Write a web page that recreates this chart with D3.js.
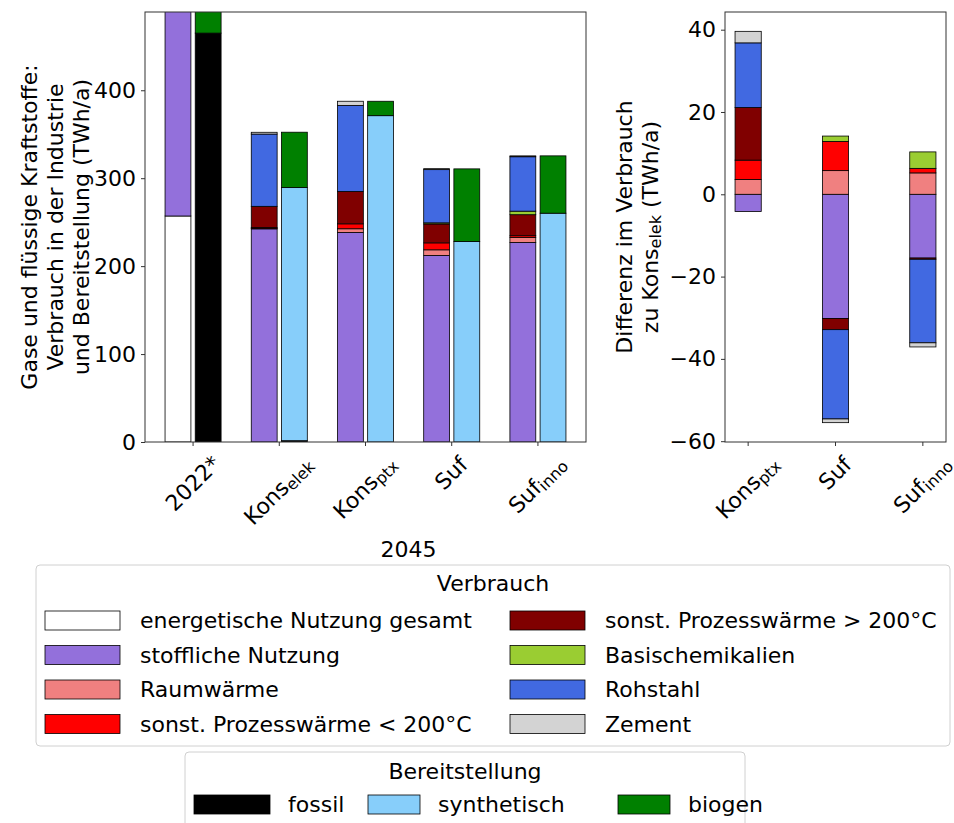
<!DOCTYPE html>
<html>
<head>
<meta charset="utf-8">
<script src="https://cdn.jsdelivr.net/npm/d3@7"></script>
<style>
  html, body { margin: 0; padding: 0; background: #fff; }
  svg { display: block; font-family: "DejaVu Sans", sans-serif; }
</style>
</head>
<body>
<svg id="chart" width="954" height="823"></svg>
<script>
// Scenario labels (base text + subscript)
const tickBase = ["2022*", "Kons", "Kons", "Suf", "Suf"];
const tickSub  = ["", "elek", "ptx", "", "inno"];

// Consumption by use (TWh/a), per scenario
const energetisch  = [257, 0, 0, 0, 0];
const stofflich    = [268, 242.4, 238.3, 212.2, 226.9];
const raumwaerme   = [0, 0.6, 4.2, 6.35, 5.8];
const pwUnter200   = [0, 0.8, 5.6, 7.9, 1.9];
const pwUeber200   = [0, 24.2, 36.9, 21.5, 23.9];
const basischemie  = [0, 0, 0, 1.3, 4.0];
const rohstahl     = [0, 82.2, 97.8, 60.5, 61.9];
const zement       = [0, 2.0, 4.7, 1.1, 1.0];

// Supply (TWh/a), per scenario
const fossil       = [465, 1.5, 0, 0, 0];
const synthetisch  = [0, 287.8, 371.1, 228.0, 260.2];
const biogen       = [60, 63.0, 16.4, 82.6, 65.2];

// Differences to Kons_elek (TWh/a)
const diffBase = ["Kons", "Suf", "Suf"];
const diffSub  = ["ptx", "", "inno"];
const dStofflich   = [-4.2, -30.2, -15.5];
const dRaumwaerme  = [3.6, 5.75, 5.2];
const dPwUnter200  = [4.7, 7.1, 1.1];
const dPwUeber200  = [12.8, -2.7, -0.3];
const dBasischemie = [0, 1.3, 4.0];
const dRohstahl    = [15.7, -21.7, -20.3];
const dZement      = [2.8, -0.9, -1.0];

const leftTicks  = [0, 100, 200, 300, 400];
const rightTicks = [-60, -40, -20, 0, 20, 40];

const useNames = ["energetische Nutzung gesamt", "stoffliche Nutzung", "Raumwärme",
  "sonst. Prozesswärme < 200°C", "sonst. Prozesswärme > 200°C", "Basischemikalien", "Rohstahl", "Zement"];
const useColors = ["#ffffff", "#9370db", "#f08080", "#ff0000", "#800000", "#9acd32", "#4169e1", "#d3d3d3"];
const supplyNames = ["fossil", "synthetisch", "biogen"];
const supplyColors = ["#000000", "#87cefa", "#008000"];

const useSeries = [energetisch, stofflich, raumwaerme, pwUnter200, pwUeber200, basischemie, rohstahl, zement];
const supplySeries = [fossil, synthetisch, biogen];
const diffSeries = [null, dStofflich, dRaumwaerme, dPwUnter200, dPwUeber200, dBasischemie, dRohstahl, dZement];

const svg = d3.select("#chart");
const FS = 22, SUB = 16;
const barW = 0.3, off = 0.175;

// ---------- left panel ----------
const xL = d3.scaleLinear().domain([-0.5575, 4.5575]).range([145, 586]);
const yL = d3.scaleLinear().domain([0, 489]).range([442, 12]);

svg.append("clipPath").attr("id", "clipL").append("rect")
  .attr("x", 145).attr("y", 12).attr("width", 441).attr("height", 430);

const gL = svg.append("g").attr("clip-path", "url(#clipL)");

function stackBars(g, x, y, series, colors, pos) {
  const n = series[0].length;
  for (let i = 0; i < n; i++) {
    let cum = 0;
    series.forEach((s, k) => {
      const v = s[i];
      if (!v) return;
      g.append("rect")
        .attr("x", x(i + pos - barW / 2))
        .attr("width", x(i + pos + barW / 2) - x(i + pos - barW / 2))
        .attr("y", y(cum + v))
        .attr("height", y(cum) - y(cum + v))
        .attr("fill", colors[k])
        .attr("stroke", "#000").attr("stroke-width", 0.8);
      cum += v;
    });
  }
}
stackBars(gL, xL, yL, useSeries, useColors, -off);
stackBars(gL, xL, yL, supplySeries, supplyColors, off);

// ---------- right panel ----------
const xR = d3.scaleLinear().domain([-0.265, 2.265]).range([725, 946]);
const yR = d3.scaleLinear().domain([-60.2, 44.3]).range([442, 12]);
const gR = svg.append("g");
for (let i = 0; i < diffBase.length; i++) {
  let pos = 0, neg = 0;
  diffSeries.forEach((s, k) => {
    if (!s) return;
    const v = s[i];
    if (!v) return;
    let y0, y1;
    if (v > 0) { y0 = pos; y1 = pos + v; pos = y1; }
    else { y0 = neg; y1 = neg + v; neg = y1; }
    gR.append("rect")
      .attr("x", xR(i - barW / 2))
      .attr("width", xR(i + barW / 2) - xR(i - barW / 2))
      .attr("y", yR(Math.max(y0, y1)))
      .attr("height", Math.abs(yR(y0) - yR(y1)))
      .attr("fill", useColors[k])
      .attr("stroke", "#000").attr("stroke-width", 0.8);
  });
}

// ---------- axes ----------
function frame(x0, x1, y0, y1) {
  svg.append("rect").attr("x", x0).attr("y", y0).attr("width", x1 - x0).attr("height", y1 - y0)
    .attr("fill", "none").attr("stroke", "#333").attr("stroke-width", 1);
}
frame(145, 586, 12, 442);
frame(725, 946, 12, 442);

const fmt = v => (v < 0 ? "\u2212" + Math.abs(v) : String(v));
const axL = svg.append("g").attr("transform", "translate(145,0)")
  .call(d3.axisLeft(yL).tickValues(leftTicks).tickSize(4).tickPadding(5).tickFormat(fmt));
const axR = svg.append("g").attr("transform", "translate(725,0)")
  .call(d3.axisLeft(yR).tickValues(rightTicks).tickSize(4).tickPadding(5).tickFormat(fmt));
[axL, axR].forEach(a => {
  a.select(".domain").remove();
  a.selectAll("line").attr("stroke", "#333");
  a.selectAll("text").attr("font-size", FS).attr("font-family", "DejaVu Sans").attr("fill", "#000");
});

// x ticks + rotated labels with subscripts
function xLabels(x, bases, subs, yTop) {
  bases.forEach((b, i) => {
    const X = x(i);
    svg.append("line").attr("x1", X).attr("x2", X).attr("y1", 442).attr("y2", 446)
      .attr("stroke", "#333");
    const g = svg.append("g");
    const t = g.append("text").attr("font-size", FS).attr("fill", "#000");
    t.append("tspan").text(b);
    if (subs[i]) t.append("tspan").attr("font-size", SUB).attr("dy", 3).text(subs[i]);
    const bb = t.node().getBBox();
    const cx = bb.x + bb.width / 2, cy = bb.y + bb.height / 2;
    const half = (bb.width + bb.height) / (2 * Math.SQRT2);
    g.attr("transform", `translate(${X},${yTop + half}) rotate(-45) translate(${-cx},${-cy})`);
  });
}
xLabels(xL, tickBase, tickSub, 451);
xLabels(xR, diffBase, diffSub, 451);

svg.append("text").attr("x", (xL(1) + xL(4)) / 2).attr("y", 557).attr("text-anchor", "middle")
  .attr("font-size", FS).text("2045");

// y-axis titles
const yl = svg.append("text").attr("transform", "translate(0,227) rotate(-90)")
  .attr("text-anchor", "middle").attr("font-size", FS);
["Gase und flüssige Kraftstoffe:", "Verbrauch in der Industrie", "und Bereitstellung (TWh/a)"]
  .forEach((s, i) => yl.append("tspan").attr("x", 0).attr("y", 37 + i * 26).text(s));

const yr = svg.append("text").attr("transform", "translate(0,227) rotate(-90)")
  .attr("text-anchor", "middle").attr("font-size", FS);
yr.append("tspan").attr("x", 0).attr("y", 632).text("Differenz im Verbrauch");
yr.append("tspan").attr("x", 0).attr("y", 658).text("zu Kons");
yr.append("tspan").attr("font-size", SUB).attr("dy", 3).text("elek");
yr.append("tspan").attr("dy", -3).text(" (TWh/a)");

// ---------- legends ----------
function legendBox(x, y, w, h) {
  svg.append("rect").attr("x", x).attr("y", y).attr("width", w).attr("height", h).attr("rx", 4)
    .attr("fill", "#fff").attr("stroke", "#d0d0d0").attr("stroke-width", 1);
}
legendBox(36, 565, 914, 181);
svg.append("text").attr("x", 493).attr("y", 591).attr("text-anchor", "middle").attr("font-size", FS).text("Verbrauch");
useNames.forEach((n, i) => {
  const col = i < 4 ? 0 : 1, row = i % 4;
  const px = col === 0 ? 45 : 510, py = 611 + row * 34.5;
  svg.append("rect").attr("x", px).attr("y", py).attr("width", 75).attr("height", 19)
    .attr("fill", useColors[i]).attr("stroke", "#000").attr("stroke-width", 0.8);
  svg.append("text").attr("x", px + 95).attr("y", py + 17).attr("font-size", FS).text(n);
});

legendBox(185, 752, 560, 80);
svg.append("text").attr("x", 465).attr("y", 779).attr("text-anchor", "middle").attr("font-size", FS).text("Bereitstellung");
const supX = [194, 368, 618];
const supW = [76, 52, 52];
supplyNames.forEach((n, i) => {
  svg.append("rect").attr("x", supX[i]).attr("y", 795).attr("width", supW[i]).attr("height", 19)
    .attr("fill", supplyColors[i]).attr("stroke", "#000").attr("stroke-width", 0.8);
  svg.append("text").attr("x", supX[i] + supW[i] + 18).attr("y", 812).attr("font-size", FS).text(n);
});
</script>
</body>
</html>
